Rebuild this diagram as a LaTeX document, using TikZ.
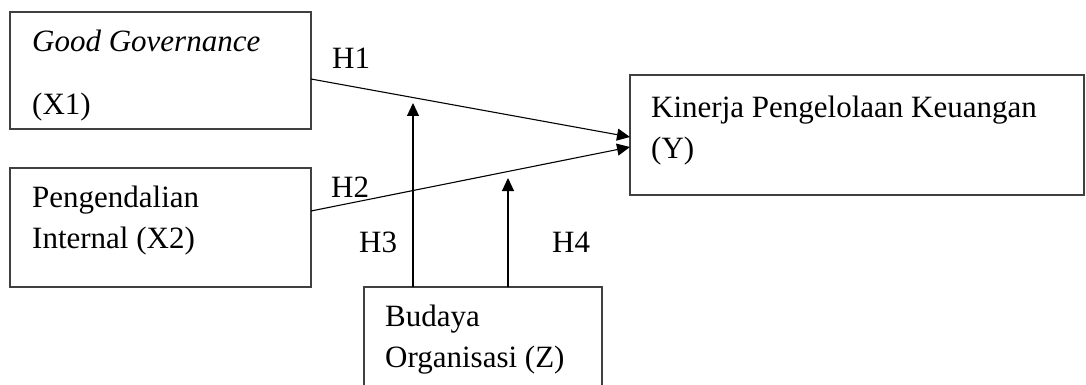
\documentclass[tikz,border=0pt]{standalone}
\usepackage{fontspec}
\setmainfont{Liberation Serif}
\usetikzlibrary{arrows.meta}

\begin{document}
\begin{tikzpicture}[
      x=1pt, y=-1pt,
      varbox/.style={
         rectangle,
         draw=black!75,
         line width=1.2pt,
         anchor=north west,
         inner sep=0pt,
         outer sep=0pt
      },
      vartext/.style={
         anchor=base west,
         align=left,
         inner sep=0pt,
         font=\fontsize{31}{41}\selectfont
      },
      hyp/.style={
         anchor=base west,
         inner sep=0pt,
         font=\fontsize{31}{41}\selectfont
      },
      >={Triangle[length=13pt,width=12pt]},
      link/.style={->,line width=1.1pt,draw=black}
    ]
    \useasboundingbox (0,0) rectangle (1086,385);
    % variables
    \node (x1) [varbox, minimum width=301pt, minimum height=117pt] at (10,12) {};
    \node (x2) [varbox, minimum width=301pt, minimum height=119pt] at (10,168) {};
    \node (y)  [varbox, minimum width=454pt, minimum height=120pt] at (630,75) {};
    \node (z)  [varbox, minimum width=238pt, minimum height=120pt] at (364,287) {};
    \node (x1t) [vartext] at ([shift={(22,103)}]x1.north west) {\textit{Good Governance}\\[22pt](X1)};
    \node (x2t) [vartext] at ([shift={(22,80)}]x2.north west) {Pengendalian\\Internal (X2)};
    \node (yt)  [vartext] at ([shift={(21,83)}]y.north west) {Kinerja Pengelolaan Keuangan\\(Y)};
    \node (zt)  [vartext] at ([shift={(21,80)}]z.north west) {Budaya\\Organisasi (Z)};
    % hypotheses
    \coordinate (m3) at (413,103);
    \coordinate (m4) at (508,178);
    \draw[link] ([yshift=-8.5pt]x1.east) -- ([yshift=-2pt]y.west);
    \draw[link] ([yshift=16.5pt]x2.east) -- ([yshift=-12pt]y.west);
    \draw[link] (m3 |- z.north) -- (m3);
    \draw[link] (m4 |- z.north) -- (m4);
    \node (h1) [hyp] at (332,69) {H1};
    \node (h2) [hyp] at (331,197) {H2};
    \node (h3) [hyp] at (359,252) {H3};
    \node (h4) [hyp] at (552,252) {H4};
\end{tikzpicture}
\end{document}
